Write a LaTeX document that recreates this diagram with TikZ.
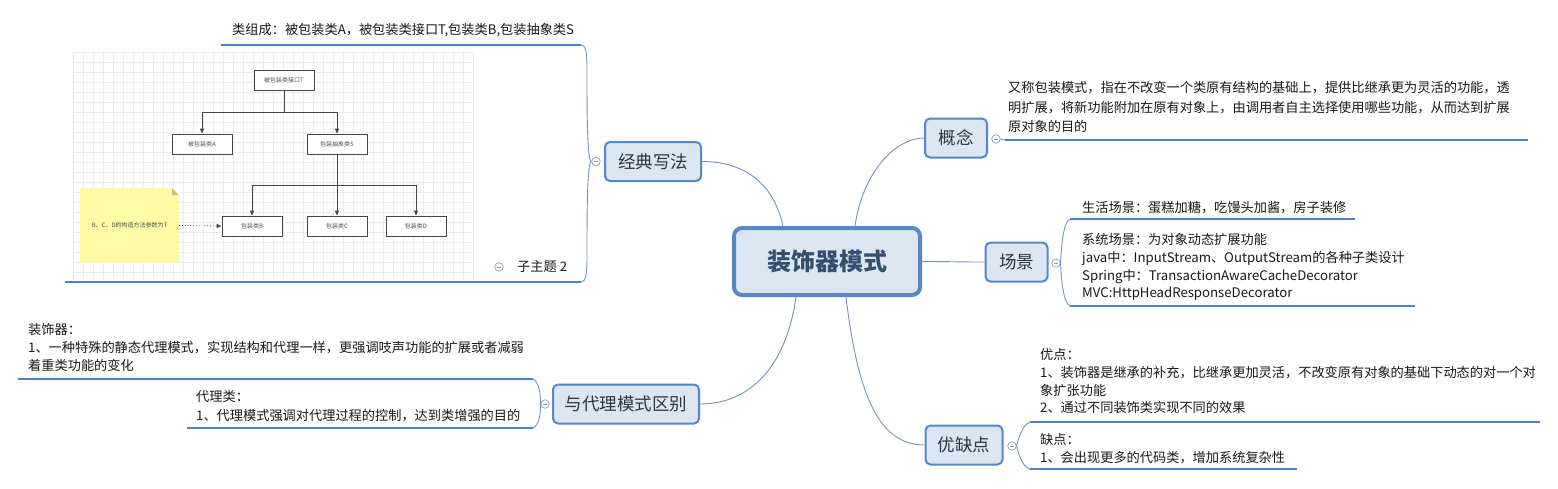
\documentclass[tikz,border=0pt]{standalone}
\usepackage{fontspec}
\setmainfont{Noto Sans CJK SC}
\usetikzlibrary{arrows.meta}
\definecolor{tfill}{RGB}{220,230,242}
\definecolor{tborder}{RGB}{86,135,198}
\definecolor{connc}{RGB}{115,145,195}
\definecolor{roottext}{RGB}{52,78,112}
\definecolor{toptext}{RGB}{45,52,66}
\definecolor{bodytext}{RGB}{25,25,25}
\definecolor{ulinec}{RGB}{79,129,189}
\definecolor{gridc}{RGB}{236,236,236}
\definecolor{notey}{RGB}{255,250,165}
\definecolor{notefold}{RGB}{200,196,135}
\definecolor{boxline}{RGB}{70,70,70}
\definecolor{circc}{RGB}{140,155,180}
\definecolor{smalltext}{RGB}{80,80,80}
\begin{document}
\begin{tikzpicture}[x=1pt,y=-1pt,
  rootbox/.style={draw=tborder, line width=4pt, fill=tfill, rounded corners=8pt,
    minimum width=186pt, minimum height=67pt,
    font=\fontsize{24}{28}\selectfont\bfseries, text=roottext},
  topicbox/.style={draw=tborder, line width=2pt, fill=tfill, rounded corners=5pt,
    minimum height=39pt, inner xsep=4pt,
    font=\fontsize{17.5}{21}\selectfont, text=toptext},
  body/.style={anchor=north west, inner sep=0pt, align=left, text=bodytext},
  uline/.style={draw=ulinec, line width=2.6pt},
  conn/.style={draw=connc, line width=0.9pt},
  brk/.style={draw=connc, line width=0.9pt},
  fold/.style={circle, draw=circc, fill=white, line width=0.7pt, minimum size=8.5pt, inner sep=0pt,
    path picture={\draw[circc, line width=0.7pt]
      ([xshift=2pt]path picture bounding box.west) -- ([xshift=-2pt]path picture bounding box.east);}},
  ibox/.style={draw=boxline, line width=0.8pt, fill=white, minimum width=60pt, minimum height=20pt,
    inner sep=0pt, font=\fontsize{6}{7}\selectfont, text=smalltext},
  iarrow/.style={draw=boxline, line width=0.8pt, -{Triangle[length=5pt,width=4pt]}}
]
\useasboundingbox[fill=white] (0,0) rectangle (1558,488);

% ---------- embedded picture (classic structure) ----------
\fill[white] (73,52) rectangle (473,280);
\foreach \gx in {73,83,...,473} {\draw[gridc, line width=0.5pt] (\gx,52) -- (\gx,280);}
\foreach \gy in {52,62,...,280} {\draw[gridc, line width=0.5pt] (73,\gy) -- (473,\gy);}
\node[ibox] (T) at (284,80) {被包装类接口T};
\node[ibox] (A) at (202,144) {被包装类A};
\node[ibox] (S) at (337,144) {包装抽象类S};
\node[ibox] (B) at (252,226) {包装类B};
\node[ibox] (C) at (337,226) {包装类C};
\node[ibox] (D) at (416,226) {包装类D};
\draw[iarrow] (T.south) -- ++(0,22) -| (A.north);
\draw[iarrow] (T.south) -- ++(0,22) -| (S.north);
\draw[iarrow] (S.south) -- ++(0,31) -| (B.north);
\draw[iarrow] (S.south) -- (C.north);
\draw[iarrow] (S.south) -- ++(0,31) -| (D.north);
\node[fill=notey, minimum width=99pt, minimum height=75pt, inner sep=0pt,
  font=\fontsize{6}{7}\selectfont, text=smalltext] (note) at (129.5,225.5) {B、C、D的构造方法参数为T};
\fill[white] (172,187.5) -- (179.5,195) -- (179.5,187.5) -- cycle;
\fill[notefold] (172,188) -- (179,195) -- (172,195) -- cycle;
\draw[boxline, line width=0.8pt, dotted, -{Triangle[length=5pt,width=4pt]}] (note.east) -- (B.west);

% ---------- root and main topics ----------
\node[rootbox] (root) at (827,261.5) {装饰器模式};
\node[topicbox, minimum width=96pt] (jd) at (653,161.5) {经典写法};
\node[topicbox, minimum width=62pt] (gn) at (956,138) {概念};
\node[topicbox, minimum width=62pt] (cj) at (1016.5,262) {场景};
\node[topicbox, minimum width=77pt] (yq) at (964,445) {优缺点};
\node[topicbox, minimum width=146pt] (dl) at (626,404) {与代理模式区别};

\draw[conn] ([xshift=-44pt]root.north) .. controls +(-10,-45) and +(40,0) .. (jd.east);
\draw[conn] ([xshift=28pt]root.north) .. controls +(8,-55) and +(-28,0) .. (gn.west);
\draw[conn] (root.east) .. controls +(30,0) and +(-30,0) .. (cj.west);
\draw[conn] ([xshift=19pt]root.south) .. controls +(12,100) and +(-45,0) .. (yq.west);
\draw[conn] ([xshift=-31pt]root.south) .. controls +(-10,70) and +(50,0) .. (dl.east);

% ---------- fold circles ----------
\node[fold] (jdc) at (596,161.5) {};
\node[fold] (gnc) at (996,139) {};
\node[fold] (cjc) at (1056,263) {};
\node[fold] (yqc) at (1012,446) {};
\node[fold] (dlc) at (545,404) {};
\node[fold] (zc) at (499,267) {};

% ---------- underline coordinates ----------
\coordinate (u1a) at (221,45);   \coordinate (u1b) at (581,45);
\coordinate (u2a) at (65,282);   \coordinate (u2b) at (581,282);
\coordinate (gua) at (1005,140); \coordinate (gub) at (1528,140);
\coordinate (cu1a) at (1070,219); \coordinate (cu1b) at (1355,219);
\coordinate (cu2a) at (1070,306); \coordinate (cu2b) at (1415,306);
\coordinate (yu1a) at (1030,422); \coordinate (yu1b) at (1540,422);
\coordinate (yu2a) at (1030,469); \coordinate (yu2b) at (1297,469);
\coordinate (du1a) at (18,379);  \coordinate (du1b) at (533,379);
\coordinate (du2a) at (187,428); \coordinate (du2b) at (533,428);

% brackets
\draw[brk] (jdc.west) .. controls (587,161.5) and (587,110) .. (587,70) .. controls (587,52) and (586,45) .. (u1b);
\draw[brk] (jdc.west) .. controls (587,161.5) and (587,215) .. (587,255) .. controls (587,274) and (586,282) .. (u2b);
\draw[brk] (gnc.east) -- (gua);
\draw[brk] (cu1a) .. controls (1063,222) and (1061,250) .. (cjc.east) .. controls (1061,276) and (1063,303) .. (cu2a);
\draw[brk] (yu1a) .. controls (1022,425) and (1018,440) .. (yqc.east) .. controls (1018,452) and (1022,467) .. (yu2a);
\draw[brk] (du1b) .. controls (538,381) and (541,392) .. (dlc.west) .. controls (541,416) and (538,426) .. (du2b);

% underlines
\draw[uline] (u1a) -- (u1b);
\draw[uline] (u2a) -- (u2b);
\draw[uline] (gua) -- (gub);
\draw[uline] (cu1a) -- (cu1b);
\draw[uline] (cu2a) -- (cu2b);
\draw[uline] (yu1a) -- (yu1b);
\draw[uline] (yu2a) -- (yu2b);
\draw[uline] (du1a) -- (du1b);
\draw[uline] (du2a) -- (du2b);

% ---------- texts ----------
\node[body, font=\fontsize{13.2}{18}\selectfont] (t1) at (232,23.5) {类组成：被包装类A，被包装类接口T,包装类B,包装抽象类S};
\node[anchor=west, inner sep=0pt, font=\fontsize{13.2}{18}\selectfont, text=bodytext] (t2) at (517,267) {子主题 2};
\node[body, font=\fontsize{13.2}{19.5}\selectfont] (g1) at (1008,81.5)
  {又称包装模式，指在不改变一个类原有结构的基础上，提供比继承更为灵活的功能，透\\
   明扩展，将新功能附加在原有对象上，由调用者自主选择使用哪些功能，从而达到扩展\\
   原对象的目的};
\node[body, font=\fontsize{13.2}{18}\selectfont] (c1) at (1082,201.5) {生活场景：蛋糕加糖，吃馒头加酱，房子装修};
\node[body, font=\fontsize{13.2}{17.7}\selectfont] (c2) at (1082,233.5)
  {系统场景：为对象动态扩展功能\\
   java中：InputStream、OutputStream的各种子类设计\\
   Spring中：TransactionAwareCacheDecorator\\
   MVC:HttpHeadResponseDecorator};
\node[body, font=\fontsize{13.2}{17.7}\selectfont] (y1) at (1040,348.5)
  {优点：\\
   1、装饰器是继承的补充，比继承更加灵活，不改变原有对象的基础下动态的对一个对\\
   象扩张功能\\
   2、通过不同装饰类实现不同的效果};
\node[body, font=\fontsize{13.2}{18}\selectfont] (y2) at (1040,433.5)
  {缺点：\\
   1、会出现更多的代码类，增加系统复杂性};
\node[body, font=\fontsize{13.2}{18}\selectfont] (d1) at (28,323.5)
  {装饰器：\\
   1、一种特殊的静态代理模式，实现结构和代理一样，更强调吱声功能的扩展或者减弱\\
   着重类功能的变化};
\node[body, font=\fontsize{13.2}{19}\selectfont] (d2) at (196,390.5)
  {代理类：\\
   1、代理模式强调对代理过程的控制，达到类增强的目的};
\end{tikzpicture}
\end{document}
